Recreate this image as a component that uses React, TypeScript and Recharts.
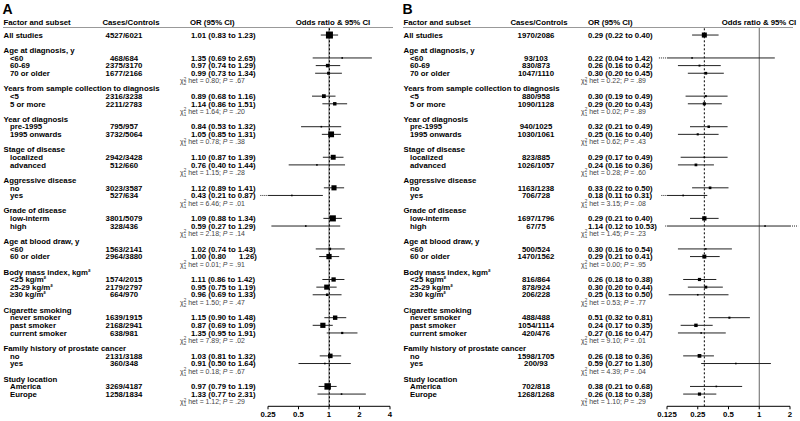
import React from "react";
import { ScatterChart, Scatter, XAxis, YAxis, ReferenceLine } from "recharts";

const FONT = "'Liberation Sans', Arial, Helvetica, sans-serif";

const groupTitles = [
  "Age at diagnosis, y",
  "Years from sample collection to diagnosis",
  "Year of diagnosis",
  "Stage of disease",
  "Aggressive disease",
  "Grade of disease",
  "Age at blood draw, y",
  "Body mass index, kgm²",
  "Cigarette smoking",
  "Family history of prostate cancer",
  "Study location",
];

const subsetLabels = [
  ["<60", "60-69", "70 or older"],
  ["<5", "5 or more"],
  ["pre-1995", "1995 onwards"],
  ["localized", "advanced"],
  ["no", "yes"],
  ["low-interm", "high"],
  ["<60", "60 or older"],
  ["<25 kg/m²", "25-29 kg/m²", "≥30 kg/m²"],
  ["never smoker", "past smoker", "current smoker"],
  ["no", "yes"],
  ["America", "Europe"],
];

const hetDf = [2, 1, 1, 1, 1, 1, 1, 2, 2, 1, 1];

// panel A (first entry = all studies)
const casesA = ["4527/6021", "468/684", "2375/3170", "1677/2166", "2316/3238", "2211/2783", "795/957", "3732/5064", "2942/3428", "512/660", "3023/3587", "527/634", "3801/5079", "328/436", "1563/2141", "2964/3880", "1574/2015", "2179/2797", "664/970", "1639/1915", "2168/2941", "638/981", "2131/3188", "360/348", "3269/4187", "1258/1834"];
const orA = [1.01, 1.35, 0.97, 0.99, 0.89, 1.14, 0.84, 1.05, 1.1, 0.76, 1.12, 0.43, 1.09, 0.59, 1.02, 1.0, 1.11, 0.95, 0.96, 1.15, 0.87, 1.35, 1.03, 0.91, 0.97, 1.33];
const loA = [0.83, 0.69, 0.74, 0.73, 0.68, 0.86, 0.53, 0.85, 0.87, 0.4, 0.89, 0.21, 0.88, 0.27, 0.74, 0.8, 0.86, 0.75, 0.69, 0.9, 0.69, 0.95, 0.81, 0.5, 0.79, 0.77];
const hiA = [1.23, 2.65, 1.29, 1.34, 1.16, 1.51, 1.32, 1.31, 1.39, 1.44, 1.41, 0.87, 1.34, 1.29, 1.43, 1.26, 1.42, 1.19, 1.33, 1.48, 1.09, 1.91, 1.32, 1.64, 1.19, 2.31];
const hetA = ["0.80", "1.64", "0.78", "1.15", "6.46", "2.18", "0.01", "1.50", "7.89", "0.18", "1.12"];
const pA = [".67", ".20", ".38", ".28", ".01", ".14", ".91", ".47", ".02", ".67", ".29"];

// panel B
const casesB = ["1970/2086", "93/103", "830/873", "1047/1110", "880/958", "1090/1128", "940/1025", "1030/1061", "823/885", "1026/1057", "1163/1238", "706/728", "1697/1796", "67/75", "500/524", "1470/1562", "816/864", "878/924", "206/228", "488/488", "1054/1114", "420/476", "1598/1705", "200/93", "702/818", "1268/1268"];
const orB = [0.29, 0.22, 0.26, 0.3, 0.3, 0.29, 0.32, 0.25, 0.29, 0.24, 0.33, 0.18, 0.29, 1.14, 0.3, 0.29, 0.26, 0.3, 0.25, 0.51, 0.24, 0.27, 0.26, 0.59, 0.38, 0.26];
const loB = [0.22, 0.04, 0.16, 0.2, 0.19, 0.2, 0.21, 0.16, 0.17, 0.16, 0.22, 0.11, 0.21, 0.12, 0.16, 0.21, 0.18, 0.2, 0.13, 0.32, 0.17, 0.16, 0.18, 0.27, 0.21, 0.18];
const hiB = [0.4, 1.42, 0.42, 0.45, 0.49, 0.43, 0.49, 0.4, 0.49, 0.36, 0.5, 0.31, 0.4, 10.53, 0.54, 0.41, 0.38, 0.44, 0.5, 0.81, 0.35, 0.47, 0.36, 1.3, 0.68, 0.38];
const hetB = ["0.22", "0.02", "0.62", "0.28", "3.15", "1.45", "0.00", "0.53", "9.10", "4.39", "1.10"];
const pB = [".89", ".89", ".43", ".60", ".08", ".23", ".95", ".77", ".01", ".04", ".29"];

const ticksA = [0.25, 0.5, 1, 2, 4];
const ticksB = [0.125, 0.25, 0.5, 1, 2];

type Row = { row: number; kind: "all" | "group" | "sub" | "chi"; label?: string; idx?: number; g?: number };

function buildRows(): Row[] {
  const rows: Row[] = [{ row: 1, kind: "all", label: "All studies", idx: 0 }];
  let r = 3;
  let idx = 1;
  groupTitles.forEach((t, g) => {
    rows.push({ row: r++, kind: "group", label: t });
    subsetLabels[g].forEach((s) => rows.push({ row: r++, kind: "sub", label: s, idx: idx++ }));
    rows.push({ row: r++, kind: "chi", g });
  });
  return rows;
}

const rows = buildRows();
const rowMap = new Map(rows.map((r) => [r.row, r]));

const fmt = (v: number) => v.toFixed(2);

const panels = [
  {
    key: "A", left: 0, yWidth: 268, labelX: 3.5, subX: 10, casesX: 124, orX: 191, chiX: 180,
    head: { cases: 131, or: 190, plot: 333 }, rule: [3, 393],
    domain: [0.25, 4], ticks: ticksA, maxSide: 7, pooled: orA[0],
    cases: casesA, or: orA, lo: loA, hi: hiA, het: hetA, p: pA,
    orText: { 15: "1.00 (0.80\u00a0\u00a0\u00a0\u00a0\u00a0\u00a01.26)" } as Record<number, string>,
  },
  {
    key: "B", left: 400, yWidth: 267, labelX: 3.5, subX: 10, casesX: 136, orX: 188, chiX: 181,
    head: { cases: 139, or: 188, plot: 359 }, rule: [3, 393],
    domain: [0.125, 2], ticks: ticksB, maxSide: 5, pooled: orB[0],
    cases: casesB, or: orB, lo: loB, hi: hiB, het: hetB, p: pB,
    orText: {} as Record<number, string>,
  },
];

type Panel = (typeof panels)[number];

function RowTick(props: any) {
  const { y, payload, panel } = props as { y: number; payload: { value: number }; panel: Panel };
  const r = rowMap.get(payload.value);
  if (!r) return null;
  const base = { fontFamily: FONT, fill: "#000", dy: "0.35em" };
  if (r.kind === "group") {
    return <text x={panel.labelX} y={y} {...base} fontSize={7.8} fontWeight="bold">{r.label}</text>;
  }
  if (r.kind === "chi") {
    const g = r.g as number;
    return (
      <text x={panel.chiX} y={y} {...base} fill="#444" fontSize={6.9}>
        χ<tspan fontSize={4.6} dy={-2.6}>2</tspan>
        <tspan fontSize={4.6} dx={-2.5} dy={4.6}>{hetDf[g]}</tspan>
        <tspan dy={-2}>{` het = ${panel.het[g]}; `}</tspan>
        <tspan fontStyle="italic">P</tspan>
        <tspan>{` = ${panel.p[g]}`}</tspan>
      </text>
    );
  }
  const i = r.idx as number;
  const orStr = panel.orText[i] ?? `${fmt(panel.or[i])} (${fmt(panel.lo[i])} to ${fmt(panel.hi[i])})`;
  return (
    <g>
      <text x={r.kind === "all" ? panel.labelX : panel.subX} y={y} {...base} fontSize={7.8} fontWeight="bold">{r.label}</text>
      <text x={panel.casesX} y={y} {...base} fontSize={7.8} fontWeight="bold" textAnchor="middle">{panel.cases[i]}</text>
      <text x={panel.orX} y={y} {...base} fontSize={7.8} fontWeight="bold">{orStr}</text>
    </g>
  );
}

function Square(props: any) {
  const { cx, cy, payload } = props;
  const s = payload.side;
  return <rect x={cx - s / 2} y={cy - s / 2} width={s} height={s} fill="#000" />;
}

function ForestPanel({ panel }: { panel: Panel }) {
  const [dmin, dmax] = panel.domain;
  const w = (i: number) => 1 / Math.pow(Math.log(panel.hi[i] / panel.lo[i]), 2);
  const wAll = w(0);
  const points = rows
    .filter((r) => r.kind === "all" || r.kind === "sub")
    .map((r) => {
      const i = r.idx as number;
      return {
        x: panel.or[i], y: r.row, lo: panel.lo[i], hi: panel.hi[i],
        side: Math.max(1.6, panel.maxSide * Math.min(1, w(i) / wAll)),
      };
    });

  return (
    <div style={{ position: "absolute", left: panel.left, top: 0 }}>
      <ScatterChart width={400} height={421} margin={{ top: 27.4, right: 10, bottom: 0.7, left: 0 }}>
        <XAxis
          dataKey="x" type="number" scale="log" domain={panel.domain} ticks={panel.ticks}
          allowDataOverflow interval={0} height={14} tickSize={3}
          stroke="#000" tick={{ fontSize: 7.8, fontWeight: "bold", fill: "#000", fontFamily: FONT }}
        />
        <YAxis
          dataKey="y" type="number" domain={[0, 49.6]} reversed allowDataOverflow
          ticks={rows.map((r) => r.row)} interval={0} width={panel.yWidth}
          axisLine={false} tickLine={false}
          tick={(p: any) => <RowTick {...p} panel={panel} />}
        />
        <ReferenceLine x={1} stroke="#666" strokeWidth={1} ifOverflow="visible" />
        <ReferenceLine x={panel.pooled} stroke="#000" strokeWidth={1} strokeDasharray="2 2" ifOverflow="visible" />
        {points.map((pt) => {
          const a = Math.max(pt.lo, dmin);
          const b = Math.min(pt.hi, dmax);
          return (
            <React.Fragment key={pt.y}>
              <ReferenceLine segment={[{ x: a, y: pt.y }, { x: b, y: pt.y }]} stroke="#222" strokeWidth={1} ifOverflow="visible" />
              {pt.lo < dmin && (
                <ReferenceLine segment={[{ x: Math.max(pt.lo, dmin / 1.2), y: pt.y }, { x: dmin, y: pt.y }]} stroke="#222" strokeDasharray="1 1" ifOverflow="visible" />
              )}
              {pt.hi > dmax && (
                <ReferenceLine segment={[{ x: dmax, y: pt.y }, { x: Math.min(pt.hi, dmax * 1.2), y: pt.y }]} stroke="#222" strokeDasharray="1 1" ifOverflow="visible" />
              )}
            </React.Fragment>
          );
        })}
        <Scatter data={points} shape={<Square />} isAnimationActive={false} />
      </ScatterChart>
      <svg width={400} height={421} style={{ position: "absolute", left: 0, top: 0, pointerEvents: "none" }}>
        <text x={2.5} y={14} fontFamily={FONT} fontSize={14} fontWeight="bold">{panel.key}</text>
        <g fontFamily={FONT} fontSize={7.8} fontWeight="bold">
          <text x={panel.labelX} y={22} dy="0.35em">Factor and subset</text>
          <text x={panel.head.cases} y={22} dy="0.35em" textAnchor="middle">Cases/Controls</text>
          <text x={panel.head.or} y={22} dy="0.35em">OR (95% CI)</text>
          <text x={panel.head.plot} y={22} dy="0.35em" textAnchor="middle">Odds ratio &amp; 95% CI</text>
        </g>
        <line x1={panel.rule[0]} x2={panel.rule[1]} y1={27.5} y2={27.5} stroke="#999" strokeWidth={1} />
      </svg>
    </div>
  );
}

export default function App() {
  return (
    <div style={{ position: "absolute", left: 0, top: 0, width: 800, height: 421, background: "#fff" }}>
      {panels.map((p) => (
        <ForestPanel key={p.key} panel={p} />
      ))}
    </div>
  );
}
